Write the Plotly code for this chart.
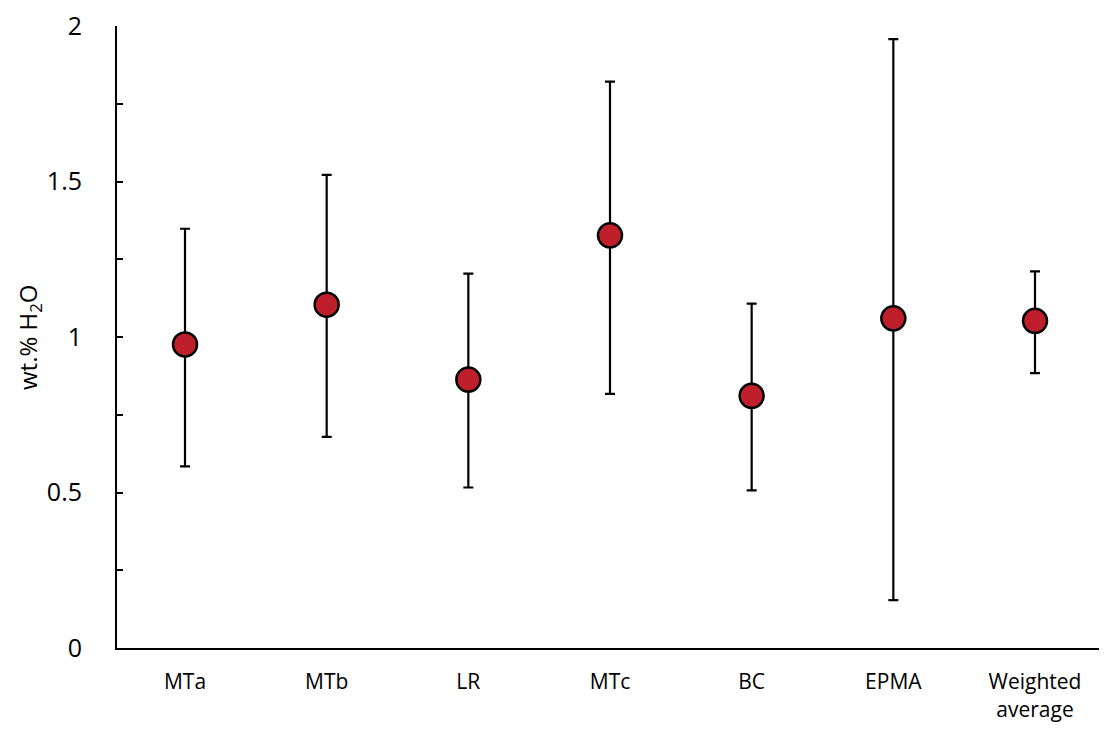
import plotly.graph_objects as go

categories = ["MTa", "MTb", "LR", "MTc", "BC", "EPMA", "Weighted<br>average"]
values = [0.976, 1.104, 0.863, 1.327, 0.811, 1.060, 1.052]
err_upper = [1.348, 1.521, 1.204, 1.821, 1.107, 1.958, 1.211]
err_lower = [0.584, 0.679, 0.516, 0.817, 0.507, 0.154, 0.884]
y_ticks = [0, 0.5, 1, 1.5, 2]
y_ticktext = ["0", "0.5", "1", "1.5", "2"]

xs = list(range(len(categories)))
plus = [u - v for u, v in zip(err_upper, values)]
minus = [v - l for v, l in zip(values, err_lower)]

fig = go.Figure()
fig.add_trace(go.Scatter(
    x=xs, y=values, mode="markers",
    marker=dict(size=24, color="#BF1F2B", line=dict(color="black", width=2.5)),
    error_y=dict(type="data", symmetric=False, array=plus, arrayminus=minus,
                 color="black", thickness=2.2, width=5),
    showlegend=False,
))

font_family = "Open Sans, Liberation Sans, sans-serif"
# the page body adds an 8px offset, margins compensate for it
fig.update_layout(
    width=1107, height=736,
    margin=dict(l=109, r=12, t=18, b=96),
    paper_bgcolor="white", plot_bgcolor="white",
    font=dict(family=font_family, color="black"),
    xaxis=dict(
        range=[-0.48, 6.48], tickmode="array", tickvals=xs, ticktext=categories,
        showgrid=False, zeroline=False, showline=True, linecolor="black", linewidth=2,
        ticks="", tickfont=dict(size=21), ticklabelstandoff=14, automargin=False,
    ),
    yaxis=dict(
        range=[0, 2], tickmode="array", tickvals=y_ticks, ticktext=y_ticktext,
        showgrid=False, zeroline=False, showline=True, linecolor="black", linewidth=2,
        ticks="inside", ticklen=6, tickwidth=2, tickcolor="black",
        minor=dict(dtick=0.25, ticks="inside", ticklen=6, tickwidth=2, tickcolor="black", showgrid=False),
        tickfont=dict(size=25), ticklabelstandoff=28, automargin=False,
        ticklabeloverflow="allow",
    ),
    annotations=[dict(
        text="wt.% H<sub>2</sub>O", textangle=-90, xref="paper", yref="paper",
        x=0, y=0.5, xanchor="center", yanchor="middle", xshift=-88, showarrow=False,
        borderpad=0, font=dict(size=24, family=font_family, color="black"),
    )],
)

fig.write_html("out.html")
